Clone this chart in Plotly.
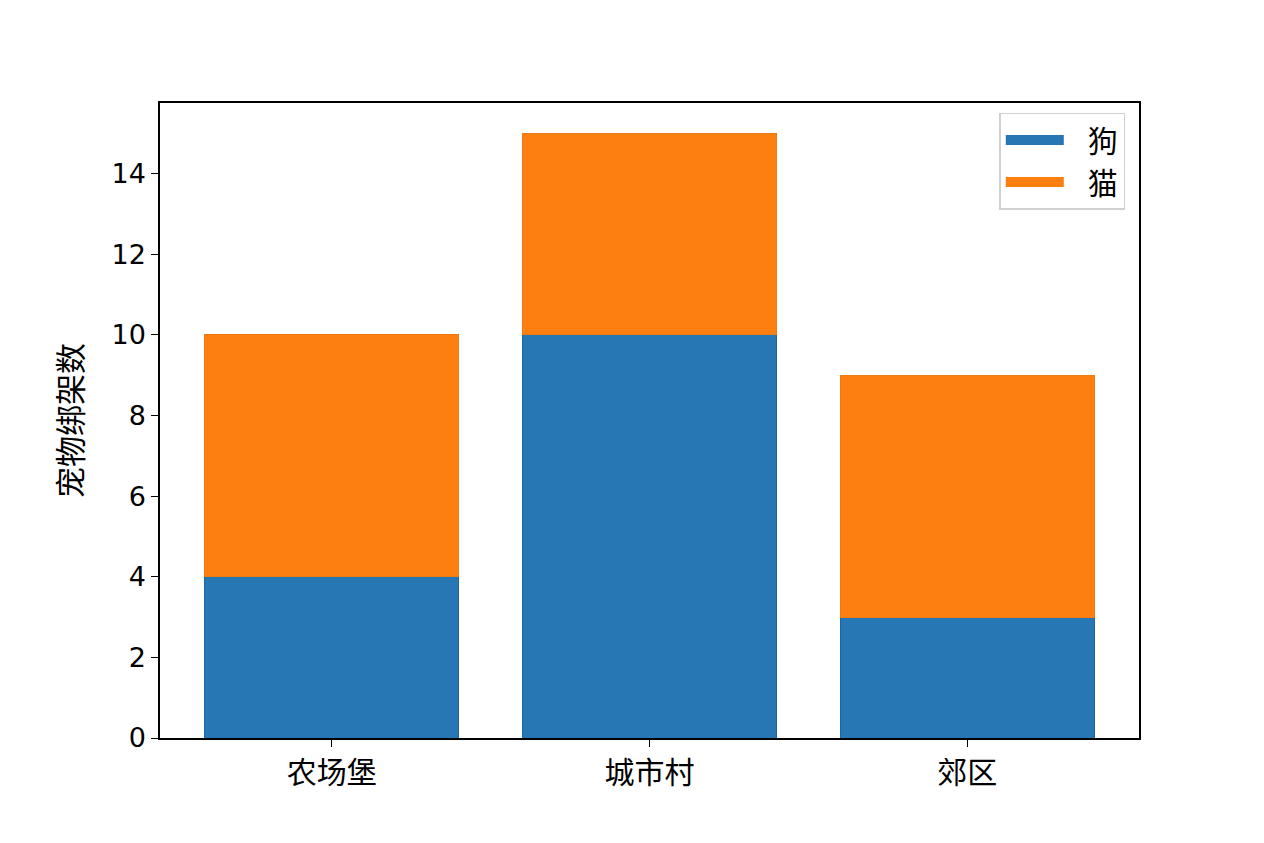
import plotly.graph_objects as go

# pet abductions per area, stacked dog + cat
areas = ["农场堡", "城市村", "郊区"]
dogs = [4, 10, 3]
cats = [6, 5, 6]
series_names = ["狗", "猫"]
y_ticks = [0, 2, 4, 6, 8, 10, 12, 14]

BLUE = "#2677b4"
ORANGE = "#fd7f10"
FONT = "DejaVu Sans, Noto Sans CJK SC, sans-serif"

fig = go.Figure()
x = list(range(len(areas)))
fig.add_trace(go.Bar(x=x, y=dogs, width=0.8, marker=dict(color=BLUE, line=dict(color="#1d65a0", width=1)), showlegend=False, name=series_names[0]))
fig.add_trace(go.Bar(x=x, y=cats, width=0.8, marker=dict(color=ORANGE, line=dict(color="#f07a12", width=1)), showlegend=False, name=series_names[1]))
# legend entries drawn as wide swatches, like the matplotlib legend
for name, color in zip(series_names, [BLUE, ORANGE]):
    fig.add_trace(go.Scatter(x=[None], y=[None], mode="lines", line=dict(color=color, width=20), name="\u00a0\u00a0" + name))

axis = dict(showline=True, linecolor="black", linewidth=1.5, mirror=True, ticks="outside", ticklen=7, tickcolor="black", showgrid=False, zeroline=False)
fig.update_layout(
    barmode="stack",
    width=1264,
    height=843,
    margin=dict(l=152, r=133, t=95, b=113),
    paper_bgcolor="white",
    plot_bgcolor="white",
    font=dict(family=FONT, size=27, color="black"),
    xaxis=dict(axis, tickvals=x, ticktext=areas, range=[-0.54, 2.54], tickfont=dict(size=30)),
    yaxis=dict(axis, tickvals=y_ticks, range=[0, 15.75], title=dict(text="宠物绑架数", font=dict(size=31), standoff=20)),
    legend=dict(x=0.986, y=0.985, xanchor="right", yanchor="top", traceorder="normal", bgcolor="white",
                bordercolor="#d0d0d0", borderwidth=1.5, font=dict(size=30), itemwidth=58),
    bargap=0.2,
)

fig.write_html("out.html")
